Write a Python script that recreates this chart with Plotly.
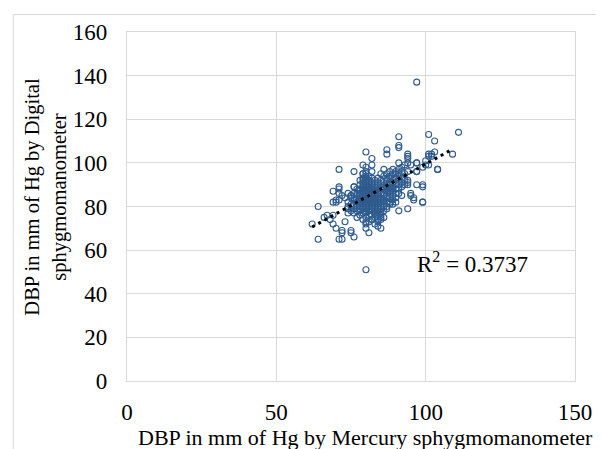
import plotly.graph_objects as go

# Peripheral / sparse points (Mercury x, Digital y)
sparse_x = [97, 80, 111, 101, 103, 91, 91, 91, 87, 87, 80, 94, 94, 94, 109, 103, 102, 101,
            97, 100, 99, 101, 97, 104, 91, 82, 82, 94, 97, 99, 95, 96, 99, 91, 94, 79, 79, 76,
            71, 71, 71, 69, 69, 70, 70, 71, 72, 71, 76, 75, 64, 62, 64, 67, 69, 70, 69, 71, 72,
            72, 72, 75, 75, 76, 73, 77, 80, 80, 81, 82, 85, 85, 84, 83, 84, 94, 97, 104, 94, 94,
            97, 99, 95, 96, 99, 94, 101, 102, 93, 95, 100, 74, 73, 66, 68]
sparse_y = [137, 51, 114, 113, 110, 112, 108, 107, 106, 104, 105, 104, 103, 102, 104, 105, 104, 104,
            100, 101, 98, 99, 96, 97, 100, 102, 99, 91, 90, 90, 86, 83, 82, 78, 79, 99, 95, 96,
            97, 89, 88, 87, 82, 82, 83, 83, 85, 86, 89, 85, 80, 72, 65, 76, 72, 70, 76, 65, 65,
            69, 68, 69, 68, 66, 73, 75, 70, 73, 68, 74, 70, 75, 74, 72, 71, 100, 100, 97, 96, 92,
            96, 89, 85, 84, 82, 90, 103, 103, 99, 99, 99, 86, 84, 75, 74]

# Dense cluster, listed column by column
cluster_cols = {
    74: [77, 79, 80, 82],
    75: [78, 80, 81, 84, 85],
    76: [77, 79, 81, 83, 84, 86, 89],
    77: [78, 80, 82, 85, 86, 88],
    78: [76, 78, 79, 80, 81, 82, 83, 84, 85, 86, 87, 88, 90, 92],
    79: [74, 77, 79, 80, 81, 82, 83, 84, 85, 86, 87, 88, 89, 90, 91, 92, 93, 95],
    80: [72, 75, 77, 78, 79, 80, 81, 82, 83, 84, 85, 86, 87, 88, 89, 90, 91, 92, 93, 94, 95, 96, 98],
    81: [73, 76, 78, 79, 80, 81, 82, 83, 84, 85, 86, 87, 88, 89, 90, 91, 92, 94],
    82: [74, 76, 78, 79, 80, 81, 82, 83, 84, 85, 86, 87, 88, 89, 90, 91, 93, 96],
    83: [75, 77, 79, 80, 81, 82, 83, 84, 85, 86, 87, 88, 90, 92],
    84: [73, 76, 78, 79, 80, 81, 82, 83, 84, 85, 86, 87, 89, 91, 93],
    85: [74, 76, 77, 79, 80, 82, 83, 84, 86, 88, 90, 92, 95],
    86: [75, 78, 80, 81, 83, 85, 86, 88, 89, 91, 94, 97],
    87: [79, 80, 82, 84, 85, 87, 89, 90, 92, 93, 95],
    88: [81, 82, 84, 86, 87, 88, 90, 91, 93, 94, 96],
    89: [81, 83, 85, 87, 88, 89, 91, 92, 95, 97],
    90: [82, 84, 86, 88, 90, 91, 93, 95, 96],
    91: [86, 88, 90, 92, 94, 95, 97],
    92: [85, 89, 91, 93, 96, 98],
    93: [90, 92, 95],
}

# Linear trendline endpoints (as shown in the chart)
trend_x = [62, 109]
trend_y = [70.6, 106.3]
r2_text = "R<sup>2</sup> = 0.3737"

x_ticks = [0, 50, 100, 150]
y_ticks = [0, 20, 40, 60, 80, 100, 120, 140, 160]

xs = list(sparse_x)
ys = list(sparse_y)
for cx, col in cluster_cols.items():
    for cy in col:
        xs.append(cx)
        ys.append(cy)

FONT = "Liberation Serif"
GRID = "#d9d9d9"

fig = go.Figure()
fig.add_trace(go.Scatter(
    x=xs, y=ys, mode="markers",
    marker=dict(symbol="circle-open", size=6, color="#2F5C8F", line=dict(width=1.1)),
    showlegend=False, hoverinfo="skip"))
fig.add_trace(go.Scatter(
    x=trend_x, y=trend_y, mode="lines",
    line=dict(color="black", width=3, dash="3px,4px"),
    showlegend=False, hoverinfo="skip"))

# The page body adds an 8px offset; the figure is sized to fit inside the window.
fig.update_layout(
    width=596, height=441,
    margin=dict(l=119, r=29, t=21, b=68, pad=0),
    paper_bgcolor="white", plot_bgcolor="white",
    font=dict(family=FONT, size=22, color="black"),
    xaxis=dict(range=[0, 150], tickvals=x_ticks, showgrid=True, gridcolor=GRID, gridwidth=1.3,
               zeroline=False, showline=True, mirror=True, linecolor=GRID, linewidth=1.3,
               ticks="", ticklabelstandoff=10, tickfont=dict(size=23)),
    yaxis=dict(range=[0, 160], tickvals=y_ticks, showgrid=True, gridcolor=GRID, gridwidth=1.3,
               zeroline=False, showline=True, mirror=True, linecolor=GRID, linewidth=1.3,
               ticks="", ticklabelstandoff=14, tickfont=dict(size=23)),
    shapes=[dict(type="rect", xref="paper", yref="paper", x0=-0.254, x1=1.3, y0=-0.5, y1=1.05,
                 line=dict(color=GRID, width=1), fillcolor="rgba(0,0,0,0)", layer="below")],
    annotations=[
        dict(text=r2_text, x=115.8, y=54.5, xref="x", yref="y", showarrow=False,
             xanchor="center", yanchor="middle", font=dict(size=23, family=FONT)),
        dict(text="DBP in mm of Hg by Mercury sphygmomanometer", xref="paper", yref="paper",
             x=0.532, y=-0.161, showarrow=False, xanchor="center", yanchor="middle",
             font=dict(size=22, family=FONT)),
        dict(text="DBP in mm of Hg by Digital<br>sphygmomanometer", xref="paper", yref="paper",
             x=-0.181, y=0.528, showarrow=False, textangle=-90, xanchor="center", yanchor="middle",
             font=dict(size=20.5, family=FONT)),
    ],
)

fig.write_html("out.html")
